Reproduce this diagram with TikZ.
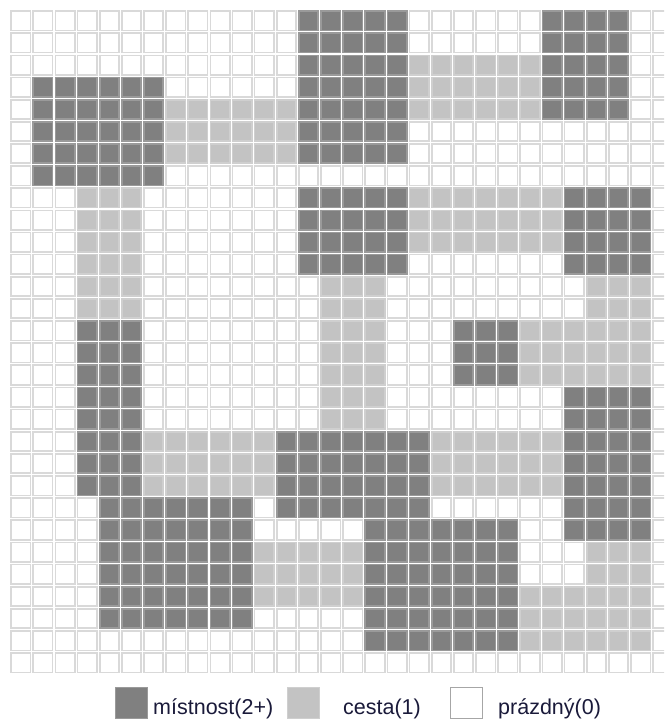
\documentclass[tikz,border=0pt]{standalone}
\usepackage{fontspec}
\setmainfont{Liberation Sans}
\definecolor{roomfill}{HTML}{808080}
\definecolor{roomedge}{HTML}{9A9A9A}
\definecolor{pathfill}{HTML}{C3C3C3}
\definecolor{pathedge}{HTML}{CFCFCF}
\definecolor{emptyedge}{HTML}{D9D9D9}
\definecolor{legtext}{HTML}{1A1A3A}
\newcommand\pitch{22.14}
\newcommand\cellrun[5]{%
  \foreach \cc in {#2,...,#3}{%
    \foreach \rr in {#4,...,#5}{%
      \path[#1] ({10+\pitch*\cc+1.1},{10+\pitch*\rr+1.1}) rectangle ++(19.4,19.4);
    }%
  }%
}
\begin{document}
\begin{tikzpicture}[x=1pt,y=-1pt,
  emptycell/.style={fill=white,draw=emptyedge,line width=1.7pt},
  roomcell/.style={fill=roomfill,draw=roomedge,line width=1.7pt},
  pathcell/.style={fill=pathfill,draw=pathedge,line width=1.7pt},
  legtxt/.style={anchor=base west,inner sep=0pt,text=legtext,font=\fontsize{21.5}{24}\selectfont}]
\useasboundingbox (0,0) rectangle (664,720);
\fill[white] (0,0) rectangle (664,720);
\begin{scope}
\clip (0,0) rectangle (664,720);
% empty grid
\cellrun{emptycell}{0}{29}{0}{29}
% rooms (2+)
\cellrun{roomcell}{1}{6}{3}{7}
\cellrun{roomcell}{13}{17}{0}{6}
\cellrun{roomcell}{24}{27}{0}{4}
\cellrun{roomcell}{13}{17}{8}{11}
\cellrun{roomcell}{25}{28}{8}{11}
\cellrun{roomcell}{3}{5}{14}{21}
\cellrun{roomcell}{20}{22}{14}{16}
\cellrun{roomcell}{25}{28}{17}{23}
\cellrun{roomcell}{12}{18}{19}{22}
\cellrun{roomcell}{4}{10}{22}{27}
\cellrun{roomcell}{16}{22}{23}{28}
% paths (1)
\cellrun{pathcell}{7}{12}{4}{6}
\cellrun{pathcell}{18}{23}{2}{4}
\cellrun{pathcell}{3}{5}{8}{13}
\cellrun{pathcell}{18}{24}{8}{10}
\cellrun{pathcell}{14}{16}{12}{18}
\cellrun{pathcell}{26}{28}{12}{13}
\cellrun{pathcell}{23}{28}{14}{16}
\cellrun{pathcell}{6}{11}{19}{21}
\cellrun{pathcell}{19}{24}{19}{21}
\cellrun{pathcell}{11}{15}{24}{26}
\cellrun{pathcell}{26}{28}{24}{25}
\cellrun{pathcell}{23}{28}{26}{28}
% legend
\path[roomcell,line width=1.2pt] (115.5,687.5) rectangle (147.5,718.5);
\node[legtxt] (lroom) at (153,714) {místnost(2+)};
\path[pathcell,line width=1.2pt] (287.5,687.5) rectangle (319.5,718.5);
\node[legtxt] (lpath) at (343,714) {cesta(1)};
\path[fill=white,draw=gray!70,line width=1.2pt] (450.5,687.5) rectangle (482.5,718.5);
\node[legtxt] (lempty) at (498,714) {prázdný(0)};
\end{scope}
\end{tikzpicture}
\end{document}
